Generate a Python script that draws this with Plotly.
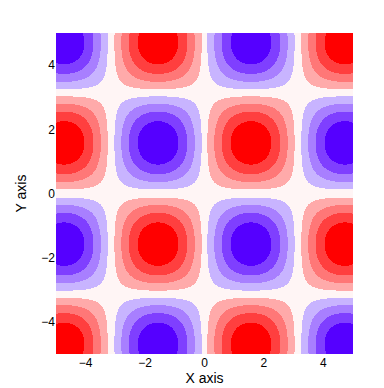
import numpy as np
import plotly.graph_objects as go

# Surface shown: z = sin(x) * sin(y) on [-5, 5] x [-5, 5]
x_vals = np.linspace(-5, 5, 300)
y_vals = np.linspace(-5, 5, 320)
z_vals = np.outer(np.sin(y_vals), np.sin(x_vals))

# 9 equal bands between -1 and 1
band_colors = [
    "rgb(85,0,255)", "rgb(127,63,255)", "rgb(168,127,255)", "rgb(200,180,255)",
    "rgb(255,245,245)",
    "rgb(255,170,170)", "rgb(255,119,119)", "rgb(255,63,63)", "rgb(255,0,0)",
]
n = len(band_colors)
colorscale = []
for i, c in enumerate(band_colors):
    colorscale.append([i / n, c])
    colorscale.append([(i + 1) / n, c])

tick_vals = [-4, -2, 0, 2, 4]
tick_text = ["\u22124", "\u22122", "0", "2", "4"]

fig = go.Figure(go.Heatmap(
    x=x_vals, y=y_vals, z=z_vals,
    zmin=-1, zmax=1, colorscale=colorscale,
    showscale=False, zsmooth=False,
))
font = dict(family="Liberation Sans, Arial, sans-serif", size=12, color="black")
fig.update_layout(
    width=384, height=388,
    margin=dict(l=48, r=39, t=25, b=42),
    paper_bgcolor="white", plot_bgcolor="white",
    font=font,
    xaxis=dict(range=[-5, 5], tickvals=tick_vals, ticktext=tick_text,
               showgrid=False, zeroline=False, ticks="", showline=False,
               title=dict(text="X axis", standoff=1)),
    yaxis=dict(range=[-5, 5], tickvals=tick_vals, ticktext=tick_text,
               showgrid=False, zeroline=False, ticks="", showline=False,
               title=dict(text="Y axis", standoff=11)),
)
fig.write_html("out.html")
